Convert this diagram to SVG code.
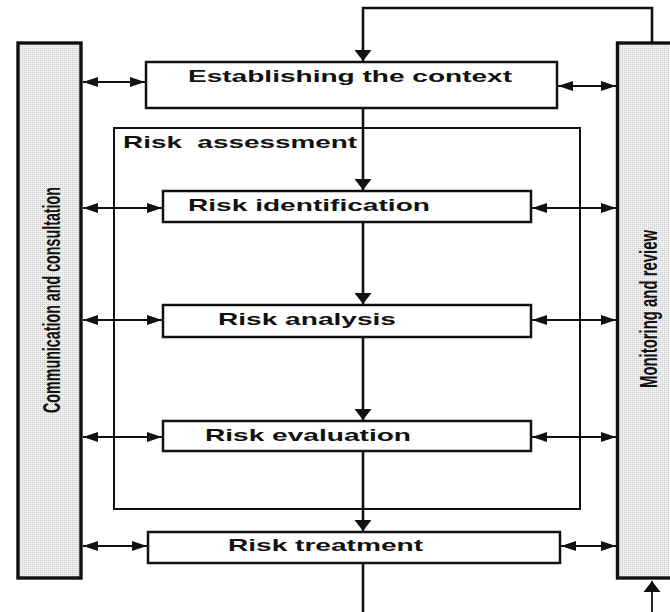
<svg xmlns="http://www.w3.org/2000/svg" width="670" height="612" viewBox="0 0 670 612">
  <style>
    .box { fill: #ffffff; stroke: #111111; stroke-width: 2.5; }
    .frame { fill: none; stroke: #111111; stroke-width: 2; }
    .bar { fill: url(#stipple); stroke: #111111; stroke-width: 3.4; }
    .lbl { font-family: "Liberation Sans", Arial, Helvetica, sans-serif; font-weight: bold; font-size: 17px; fill: #111111; }
    .vlbl { font-family: "Liberation Sans", Arial, Helvetica, sans-serif; font-weight: bold; font-size: 14.5px; fill: #111111; }
    .flow { fill: none; stroke: #111111; stroke-width: 2.6; }
    .link { fill: none; stroke: #111111; stroke-width: 1.8; }
  </style>
  <defs>
    <!-- fine dotted fill for the side bars -->
    <pattern id="stipple" width="2" height="2" patternUnits="userSpaceOnUse">
      <rect width="2" height="2" fill="#f0f0f0"/>
      <rect x="0" y="0" width="1" height="1" fill="#cbcbcb"/>
    </pattern>
    <!-- horizontal arrowhead: long and flat -->
    <marker id="ah" markerUnits="userSpaceOnUse" markerWidth="15" markerHeight="11" refX="15" refY="5.5" orient="auto-start-reverse" viewBox="0 0 15 11">
      <path d="M0,0.5 L15,5.5 L0,10.5 Z" fill="#111111"/>
    </marker>
    <!-- vertical arrowhead: short and wide -->
    <marker id="av" markerUnits="userSpaceOnUse" markerWidth="11" markerHeight="17" refX="11" refY="8.5" orient="auto" viewBox="0 0 11 17">
      <path d="M0,0 L11,8.5 L0,17 Z" fill="#111111"/>
    </marker>
  </defs>

  <rect width="670" height="612" fill="#ffffff"/>

  <!-- side bars -->
  <g id="communication">
    <rect class="bar" x="18" y="43" width="63" height="535"/>
    <text class="vlbl" text-anchor="middle" textLength="226" lengthAdjust="spacingAndGlyphs" transform="translate(60,300) scale(1.65,1) rotate(-90)">Communication and consultation</text>
  </g>
  <g id="monitoring">
    <rect class="bar" x="617.5" y="43" width="70" height="535"/>
    <text class="vlbl" text-anchor="middle" textLength="158" lengthAdjust="spacingAndGlyphs" transform="translate(657,309) scale(1.65,1) rotate(-90)">Monitoring and review</text>
  </g>

  <!-- risk assessment frame -->
  <g id="risk-assessment">
    <rect class="frame" x="114" y="128" width="466" height="381"/>
    <text class="lbl" x="123" y="148" xml:space="preserve" textLength="234" lengthAdjust="spacingAndGlyphs">Risk  assessment</text>
  </g>

  <!-- process steps -->
  <g id="context">
    <rect class="box" x="146" y="62" width="411" height="46"/>
    <text class="lbl" x="188" y="82" textLength="324" lengthAdjust="spacingAndGlyphs">Establishing the context</text>
  </g>
  <g id="identification">
    <rect class="box" x="163" y="191" width="368" height="31"/>
    <text class="lbl" x="188" y="211" textLength="242" lengthAdjust="spacingAndGlyphs">Risk identification</text>
  </g>
  <g id="analysis">
    <rect class="box" x="163" y="305" width="368" height="32"/>
    <text class="lbl" x="218" y="325" textLength="178" lengthAdjust="spacingAndGlyphs">Risk analysis</text>
  </g>
  <g id="evaluation">
    <rect class="box" x="163" y="421" width="368" height="30"/>
    <text class="lbl" x="205" y="441" textLength="206" lengthAdjust="spacingAndGlyphs">Risk evaluation</text>
  </g>
  <g id="treatment">
    <rect class="box" x="148" y="532" width="412" height="31"/>
    <text class="lbl" x="228" y="551" textLength="195" lengthAdjust="spacingAndGlyphs">Risk treatment</text>
  </g>

  <!-- connectors -->
  <g id="connectors">
    <!-- main flow -->
    <path class="flow" d="M652,42 V8 H363 V61" marker-end="url(#av)"/>
    <path class="flow" d="M363,109 V190" marker-end="url(#av)"/>
    <path class="flow" d="M363,223 V304" marker-end="url(#av)"/>
    <path class="flow" d="M363,338 V420" marker-end="url(#av)"/>
    <path class="flow" d="M363,452 V531" marker-end="url(#av)"/>
    <path class="flow" d="M363,564 V612"/>
    <path class="link" d="M652,612 V581" marker-end="url(#av)"/>

    <!-- communication links -->
    <path class="link" d="M83,82 H145" marker-start="url(#ah)" marker-end="url(#ah)"/>
    <path class="link" d="M83,208 H162" marker-start="url(#ah)" marker-end="url(#ah)"/>
    <path class="link" d="M83,320 H162" marker-start="url(#ah)" marker-end="url(#ah)"/>
    <path class="link" d="M83,437 H162" marker-start="url(#ah)" marker-end="url(#ah)"/>
    <path class="link" d="M83,546 H147" marker-start="url(#ah)" marker-end="url(#ah)"/>

    <!-- monitoring links -->
    <path class="link" d="M558,86 H616" marker-start="url(#ah)" marker-end="url(#ah)"/>
    <path class="link" d="M532,208 H616" marker-start="url(#ah)" marker-end="url(#ah)"/>
    <path class="link" d="M532,320 H616" marker-start="url(#ah)" marker-end="url(#ah)"/>
    <path class="link" d="M532,437 H616" marker-start="url(#ah)" marker-end="url(#ah)"/>
    <path class="link" d="M561,546 H616" marker-start="url(#ah)" marker-end="url(#ah)"/>
  </g>
</svg>
